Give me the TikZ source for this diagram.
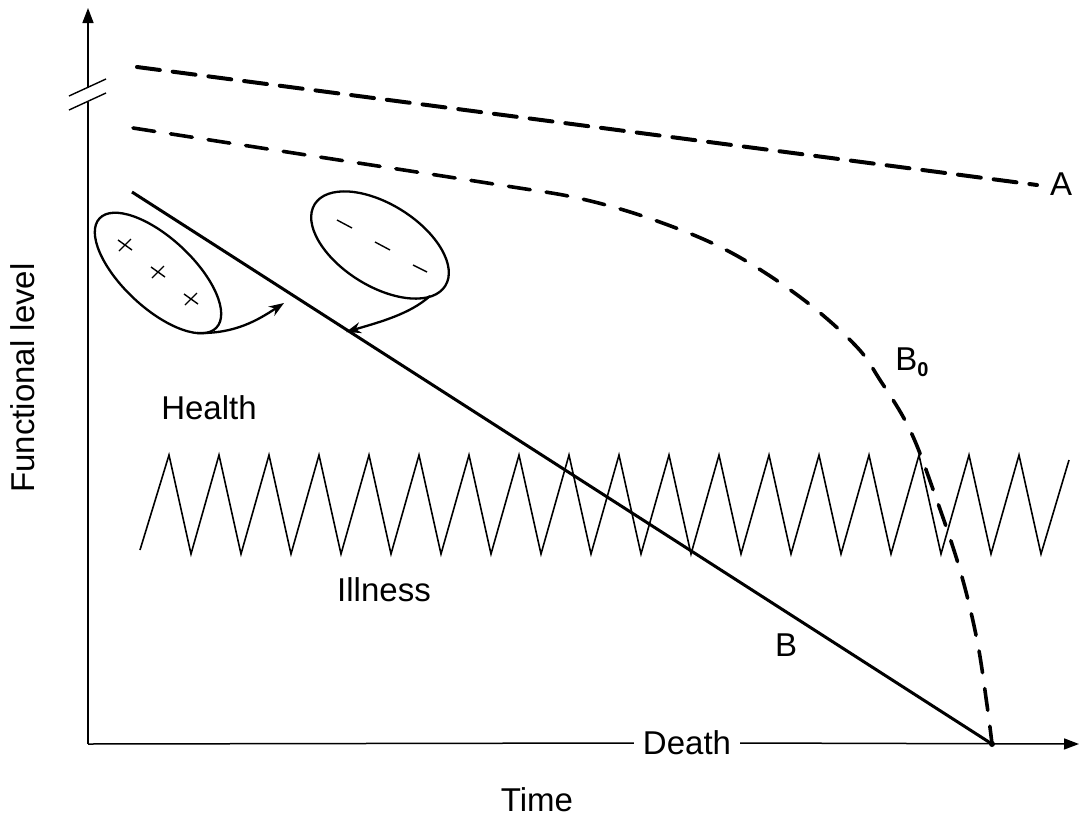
\documentclass[tikz,border=0pt]{standalone}
\usepackage{fontspec}
\setmainfont{Liberation Sans}
\usetikzlibrary{arrows.meta}
\begin{document}
\begin{tikzpicture}[x=1pt,y=-1pt,
  lbl/.style={font=\fontsize{33}{33}\selectfont, inner sep=0pt},
  axisline/.style={line width=1.5pt},
  dashA/.style={line width=4pt, line cap=round, dash pattern=on 23pt off 13pt},
  dashB/.style={line width=3.6pt, line cap=round, dash pattern=on 22pt off 16pt},
  solidB/.style={line width=3pt},
  zig/.style={line width=1.6pt, line join=miter},
  blob/.style={line width=2.3pt},
  tick/.style={line width=1.4pt},
  tipS/.style={-{Stealth[length=15pt,width=11pt]}},
  tipT/.style={-{Triangle[length=15pt,width=11pt]}}
]
\useasboundingbox (0,0) rectangle (1079,822);

% axes
\coordinate (O) at (88,744);
\coordinate (ytop) at (88,8);
\coordinate (brkLo) at (88,102);
\coordinate (brkHi) at (88,88);
\coordinate (xend) at (1079,744);
\node[lbl, fill=white, inner xsep=9pt, inner ysep=3pt] (death) at (687,743) {Death};
\draw[axisline] (O) -- (brkLo);
\draw[axisline, tipT] (brkHi) -- (ytop);
\draw[axisline] (O) -- (death.west);
\draw[axisline, tipT] (death.east) -- (xend);
\draw[tick] (69,96) -- (106,79);
\draw[tick] (69,110) -- (106,93);

% curve A
\coordinate (As) at (137,67);
\coordinate (Ae) at (1037,185);
\draw[dashA] (As) -- (Ae);

% curve B0
\draw[dashB] plot[smooth, tension=0.6] coordinates {(133,128) (300,154) (500,185) (582,199) (657,221) (730,252) (800,297) (855,345) (880,380) (910,430) (935,495) (960,570) (977,640) (987,705) (992,744)};

% line B
\coordinate (Bs) at (132,192);
\coordinate (Be) at (992,744);
\draw[solidB] (Bs) -- (Be);
\fill (Be) circle (3pt);

% health/illness zigzag
\draw[zig] (140,550) \foreach \k in {0,...,17}{ -- ({169+50*\k},455) -- ({191+50*\k},554)} -- (1069,460);

% left ellipse with crosses
\draw[blob, rotate around={-43:(158,273)}] (158,273) ellipse [x radius=80, y radius=35];
\foreach \cx/\cy in {125/245,158/272,191/299}{
  \draw[tick] (\cx-7,\cy-5) -- (\cx+7,\cy+5);
  \draw[tick] (\cx-6,\cy+6) -- (\cx+6,\cy-6);
}
\coordinate (lt0) at (197,333);
\coordinate (lt1) at (284,303);
\draw[blob, tipS] (lt0) .. controls (235,334) and (258,320) .. (lt1);

% right ellipse with dashes
\draw[blob, rotate around={-32:(380,245)}] (380,245) ellipse [x radius=77, y radius=41];
\draw[tick] (337,220) -- (352,228);
\draw[tick] (375,242) -- (390,250);
\draw[tick] (413,265) -- (427,272);
\coordinate (rt0) at (430,296);
\coordinate (rt1) at (346,332);
\draw[blob, tipS] (rt0) .. controls (410,314) and (380,322) .. (rt1);

% labels
\node[lbl] (health) at (209,408) {Health};
\node[lbl] (illness) at (384,590) {Illness};
\node[lbl] (lblB) at (786,645) {B};
\node[lbl] (lblB0) at (912,362) {B\raisebox{-6pt}{\fontsize{20}{20}\selectfont\textbf{0}}};
\node[lbl] (lblA) at (1061,184) {A};
\node[lbl] (time) at (537,800) {Time};
\node[lbl, rotate=90] (flevel) at (23,378) {Functional level};
\end{tikzpicture}
\end{document}
